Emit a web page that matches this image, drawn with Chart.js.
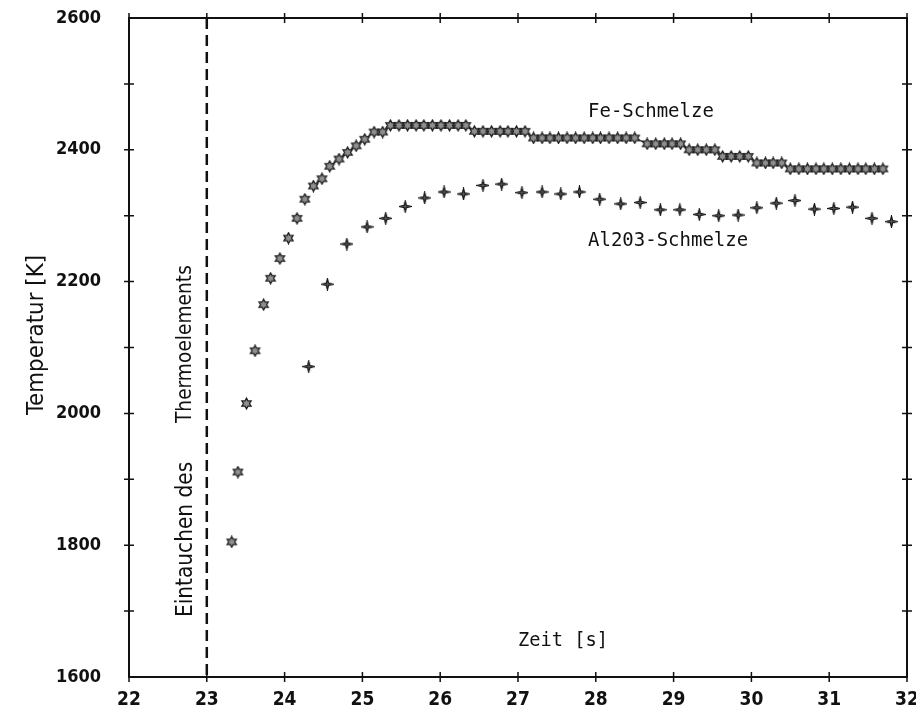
<!DOCTYPE html>
<html>
<head>
<meta charset="utf-8">
<script src="https://cdn.jsdelivr.net/npm/chart.js@4/dist/chart.umd.min.js"></script>
<style>
  body { margin: 0; background: #fff; }
  #wrap { width: 916px; height: 720px; }
</style>
</head>
<body>
<div id="wrap"><canvas id="tempChart"></canvas></div>
<script>
// Fe melt (asterisks), time in s, temperature in K
var feTime = [23.32, 23.40, 23.51, 23.62, 23.73, 23.82, 23.94, 24.05, 24.16, 24.26,
  24.37, 24.48, 24.58, 24.70, 24.81, 24.92, 25.03, 25.15, 25.26,
  25.36, 25.47, 25.58, 25.69, 25.79, 25.90, 26.01, 26.12, 26.23, 26.33,
  26.44, 26.55, 26.66, 26.77, 26.87, 26.98, 27.09,
  27.20, 27.31, 27.41, 27.52, 27.63, 27.74, 27.85, 27.96, 28.06, 28.17, 28.28, 28.39, 28.50,
  28.66, 28.77, 28.88, 28.98, 29.09,
  29.20, 29.31, 29.42, 29.53,
  29.63, 29.74, 29.85, 29.96,
  30.07, 30.18, 30.28, 30.39,
  30.50, 30.61, 30.72, 30.83, 30.93, 31.04, 31.15, 31.26, 31.37, 31.47, 31.58, 31.69];
var feTemp = [1805, 1911, 2015, 2095, 2165, 2205, 2235, 2266, 2296, 2325,
  2345, 2356, 2375, 2386, 2396, 2406, 2416, 2427, 2427,
  2437, 2437, 2437, 2437, 2437, 2437, 2437, 2437, 2437, 2437,
  2428, 2428, 2428, 2428, 2428, 2428, 2428,
  2418, 2418, 2418, 2418, 2418, 2418, 2418, 2418, 2418, 2418, 2418, 2418, 2418,
  2409, 2409, 2409, 2409, 2409,
  2400, 2400, 2400, 2400,
  2390, 2390, 2390, 2390,
  2380, 2380, 2380, 2380,
  2371, 2371, 2371, 2371, 2371, 2371, 2371, 2371, 2371, 2371, 2371, 2371];

// Al2O3 melt (plus marks)
var alTime = [24.31, 24.55, 24.80, 25.06, 25.30, 25.55, 25.80, 26.05, 26.30, 26.55,
  26.79, 27.05, 27.31, 27.55, 27.79, 28.05, 28.32, 28.57, 28.83, 29.08,
  29.33, 29.58, 29.83, 30.07, 30.32, 30.56, 30.81, 31.06, 31.30, 31.55, 31.80];
var alTemp = [2071, 2196, 2257, 2283, 2296, 2314, 2327, 2336, 2333, 2346,
  2348, 2335, 2336, 2333, 2336, 2325, 2318, 2320, 2309, 2309,
  2302, 2300, 2301, 2312, 2319, 2323, 2310, 2311, 2313, 2296, 2291];

var xTicks = [22, 23, 24, 25, 26, 27, 28, 29, 30, 31, 32];
var yLabelTicks = [1600, 1800, 2000, 2200, 2400, 2600];
var markerTime = 23; // Eintauchen des Thermoelements

var textFont = "'DejaVu Sans Mono', monospace";
var tickFont = "'DejaVu Sans Condensed', 'Liberation Sans Narrow', sans-serif";

function toPoints(xs, ys) {
  return xs.map(function(x, i) { return { x: x, y: ys[i] }; });
}

// star shaped marker drawn into a small canvas
function makeStar(spikes, outer, inner, fill, stroke) {
  var c = document.createElement('canvas');
  c.width = 13; c.height = 13;
  var g = c.getContext('2d');
  g.beginPath();
  for (var i = 0; i < spikes * 2; i++) {
    var r = i % 2 === 0 ? outer : inner;
    var a = -Math.PI / 2 + i * Math.PI / spikes;
    var px = 6.5 + r * Math.cos(a), py = 6.5 + r * Math.sin(a);
    if (i === 0) g.moveTo(px, py); else g.lineTo(px, py);
  }
  g.closePath();
  g.fillStyle = fill;
  g.fill();
  g.lineWidth = 1.2;
  g.strokeStyle = stroke;
  g.stroke();
  return c;
}

var feMark = makeStar(6, 5.4, 3, '#8f8f8f', '#1a1a1a');
var alMark = makeStar(4, 5.6, 1.6, '#555', '#111');

// set a font size so that the text gets a given length in px
function fitText(ctx, txt, len, family) {
  ctx.font = '20px ' + family;
  var size = 20 * len / ctx.measureText(txt).width;
  ctx.font = size.toFixed(1) + 'px ' + family;
}

var framePlugin = {
  id: 'frame',
  beforeDatasetsDraw: function(chart) {
    var ctx = chart.ctx, a = chart.chartArea;
    var xs = chart.scales.x, ys = chart.scales.y;
    ctx.save();
    ctx.strokeStyle = '#111';
    ctx.lineWidth = 2;
    ctx.strokeRect(a.left, a.top, a.right - a.left, a.bottom - a.top);
    ctx.lineWidth = 1.5;
    ctx.beginPath();
    xTicks.forEach(function(v) {
      var px = xs.getPixelForValue(v);
      ctx.moveTo(px, a.bottom - 5); ctx.lineTo(px, a.bottom + 5);
      ctx.moveTo(px, a.top - 5); ctx.lineTo(px, a.top + 5);
    });
    for (var t = 1700; t < 2600; t += 100) {
      var py = ys.getPixelForValue(t);
      ctx.moveTo(a.left - 5, py); ctx.lineTo(a.left + 5, py);
      ctx.moveTo(a.right - 5, py); ctx.lineTo(a.right + 5, py);
    }
    ctx.stroke();

    // dashed marker line
    var mx = xs.getPixelForValue(markerTime);
    ctx.lineWidth = 2.5;
    ctx.setLineDash([11, 6]);
    ctx.beginPath();
    ctx.moveTo(mx, a.top);
    ctx.lineTo(mx, a.bottom);
    ctx.stroke();
    ctx.restore();
  },
  afterDatasetsDraw: function(chart) {
    var ctx = chart.ctx, a = chart.chartArea;
    var xs = chart.scales.x, ys = chart.scales.y;
    ctx.save();
    ctx.fillStyle = '#111';
    ctx.textBaseline = 'middle';
    ctx.textAlign = 'left';
    fitText(ctx, 'Fe-Schmelze', 126, textFont);
    ctx.fillText('Fe-Schmelze', xs.getPixelForValue(27.9), ys.getPixelForValue(2458));
    fitText(ctx, 'Al203-Schmelze', 160, textFont);
    ctx.fillText('Al203-Schmelze', xs.getPixelForValue(27.9), ys.getPixelForValue(2262));
    fitText(ctx, 'Zeit [s]', 90, textFont);
    ctx.fillText('Zeit [s]', xs.getPixelForValue(27.0), a.bottom - 36);

    // rotated texts
    ctx.save();
    ctx.translate(xs.getPixelForValue(markerTime) - 21, ys.getPixelForValue(1691));
    ctx.rotate(-Math.PI / 2);
    fitText(ctx, 'Eintauchen des', 155, tickFont);
    ctx.fillText('Eintauchen des', 0, 0);
    fitText(ctx, 'Thermoelements', 158, tickFont);
    ctx.fillText('Thermoelements', 194, 0);
    ctx.restore();

    ctx.save();
    ctx.translate(37, 335);
    ctx.rotate(-Math.PI / 2);
    ctx.textAlign = 'center';
    fitText(ctx, 'Temperatur [K]', 160, tickFont);
    ctx.fillText('Temperatur [K]', 0, 0);
    ctx.restore();
    ctx.restore();
  }
};

var ctx = document.getElementById('tempChart').getContext('2d');
var chart = new Chart(ctx, {
  type: 'scatter',
  data: {
    datasets: [{
      label: 'Fe-Schmelze',
      data: toPoints(feTime, feTemp),
      showLine: true,
      borderColor: '#333',
      borderWidth: 1.2,
      segment: {
        borderColor: function(c) {
          var d = Math.hypot(c.p1.x - c.p0.x, c.p1.y - c.p0.y);
          return d > 14 ? 'rgba(0,0,0,0)' : '#333';
        }
      },
      pointStyle: feMark,
      pointRadius: 6
    }, {
      label: 'Al203-Schmelze',
      data: toPoints(alTime, alTemp),
      showLine: false,
      pointStyle: alMark,
      pointRadius: 6
    }]
  },
  plugins: [framePlugin],
  options: {
    responsive: true,
    maintainAspectRatio: false,
    animation: false,
    layout: { padding: { top: 18, right: 9, left: 0, bottom: 0 } },
    plugins: { legend: { display: false }, tooltip: { enabled: false } },
    scales: {
      x: {
        type: 'linear',
        min: 22, max: 32,
        afterFit: function(s) { s.height = 43; s.paddingLeft = 0; s.paddingRight = 0; },
        afterBuildTicks: function(s) { s.ticks = xTicks.map(function(v) { return { value: v }; }); },
        grid: { display: false, drawTicks: false },
        border: { display: false },
        ticks: { color: '#111', padding: 12, font: { family: tickFont, size: 19, weight: 'bold' } }
      },
      y: {
        min: 1600, max: 2600,
        afterFit: function(s) { s.width = 129; s.paddingTop = 0; s.paddingBottom = 0; },
        afterBuildTicks: function(s) { s.ticks = yLabelTicks.map(function(v) { return { value: v }; }); },
        grid: { display: false, drawTicks: false },
        border: { display: false },
        ticks: {
          color: '#111', padding: 28,
          font: { family: tickFont, size: 18, weight: 'bold' },
          callback: function(v) { return String(v); }
        }
      }
    }
  }
});
</script>
</body>
</html>
